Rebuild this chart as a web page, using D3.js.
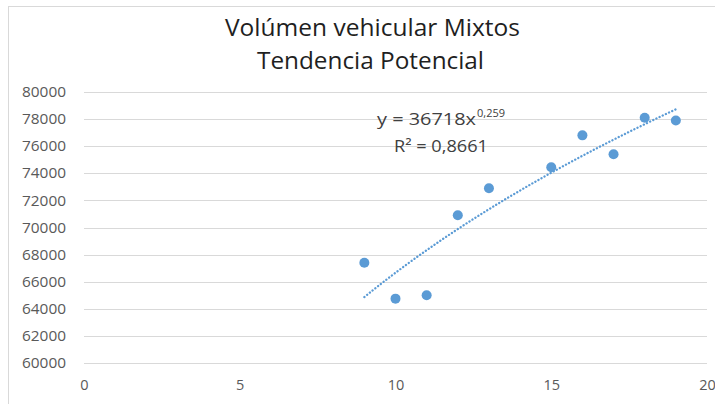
<!DOCTYPE html>
<html>
<head>
<meta charset="utf-8">
<script src="https://cdn.jsdelivr.net/npm/d3@7"></script>
<style>
  html, body { margin: 0; padding: 0; background: #fff; }
  svg { display: block; font-family: "Open Sans", "Liberation Sans", sans-serif; }
</style>
</head>
<body>
<svg id="chart" width="715" height="404"></svg>
<script>
// Mixed vehicle volume by period, with its power-law trend
const periods = [9, 10, 11, 12, 13, 15, 16, 17, 18, 19];
const volumes = [67400, 64750, 65000, 70900, 72900, 74450, 76800, 75400, 78100, 77900];
const xTicks = [0, 5, 10, 15, 20];
const yTicks = [60000, 62000, 64000, 66000, 68000, 70000, 72000, 74000, 76000, 78000, 80000];
const titleLines = ["Volúmen vehicular Mixtos", "Tendencia Potencial"];
const trendCoef = 36718;
const trendExp = 0.259;
const trendR2 = "0,8661";

const svg = d3.select("#chart");
const W = 715, H = 404;
const blue = "#5b9bd5";

// chart frame
svg.append("rect")
  .attr("x", 8.5).attr("y", 6.5)
  .attr("width", W + 10).attr("height", H + 10)
  .attr("fill", "#fff").attr("stroke", "#d9d9d9").attr("stroke-width", 1);

const x = d3.scaleLinear().domain([0, 20]).range([84, 707]);
const y = d3.scaleLinear().domain([60000, 80000]).range([363, 92]);

// horizontal gridlines
svg.append("g")
  .selectAll("line").data(yTicks).join("line")
  .attr("x1", x(0)).attr("x2", x(20))
  .attr("y1", d => Math.round(y(d)) + 0.5).attr("y2", d => Math.round(y(d)) + 0.5)
  .attr("stroke", "#d9d9d9").attr("stroke-width", 1);

// y axis labels
const yAxis = d3.axisLeft(y).tickValues(yTicks).tickSize(0).tickPadding(0)
  .tickFormat(d3.format("d"));
const gy = svg.append("g").attr("transform", "translate(66,0)").call(yAxis);
gy.select(".domain").remove();
gy.selectAll("text").attr("fill", "#595959").style("font-size", "14.5px")
  .style("font-family", "'Open Sans', sans-serif")
  .attr("textLength", 44).attr("lengthAdjust", "spacingAndGlyphs");

// x axis labels
const xAxis = d3.axisBottom(x).tickValues(xTicks).tickSize(0).tickPadding(0)
  .tickFormat(d3.format("d"));
const gx = svg.append("g").attr("transform", "translate(0,380)").call(xAxis);
gx.select(".domain").remove();
gx.selectAll("text").attr("fill", "#595959").style("font-size", "14.5px")
  .style("font-family", "'Open Sans', sans-serif");

// title
const titleWidths = [295, 227];
svg.append("g").selectAll("text").data(titleLines).join("text")
  .attr("x", (d, i) => i === 0 ? 372.5 : 370.5)
  .attr("y", (d, i) => i === 0 ? 36 : 69)
  .attr("text-anchor", "middle")
  .attr("fill", "#1f1f1f")
  .attr("textLength", (d, i) => titleWidths[i])
  .attr("lengthAdjust", "spacingAndGlyphs")
  .style("font-size", "24px")
  .text(d => d);

// power trendline y = a * x^b over the observed period range
const xMin = d3.min(periods), xMax = d3.max(periods);
const trendPts = d3.range(0, 101).map(i => {
  const t = xMin + (xMax - xMin) * i / 100;
  return [t, trendCoef * Math.pow(t, trendExp)];
});
svg.append("path")
  .datum(trendPts)
  .attr("d", d3.line().x(d => x(d[0])).y(d => y(d[1])))
  .attr("fill", "none")
  .attr("stroke", blue)
  .attr("stroke-width", 2.3)
  .attr("stroke-linecap", "round")
  .attr("stroke-dasharray", "0.1,3.4");

// data points
svg.append("g").selectAll("circle").data(periods).join("circle")
  .attr("cx", (d, i) => x(d))
  .attr("cy", (d, i) => y(volumes[i]))
  .attr("r", 5)
  .attr("fill", blue);

// trendline equation and R²
svg.append("text")
  .attr("x", 377).attr("y", 125)
  .attr("fill", "#404040")
  .attr("textLength", 99).attr("lengthAdjust", "spacingAndGlyphs")
  .style("font-size", "16.5px")
  .text("y = " + trendCoef + "x");
svg.append("text")
  .attr("x", 477).attr("y", 117)
  .attr("fill", "#404040")
  .attr("textLength", 28).attr("lengthAdjust", "spacingAndGlyphs")
  .style("font-size", "11px")
  .text(String(trendExp).replace(".", ","));

svg.append("text")
  .attr("x", 394).attr("y", 152)
  .attr("fill", "#404040")
  .attr("textLength", 94).attr("lengthAdjust", "spacingAndGlyphs")
  .style("font-size", "16.5px")
  .text("R² = " + trendR2);
</script>
</body>
</html>
